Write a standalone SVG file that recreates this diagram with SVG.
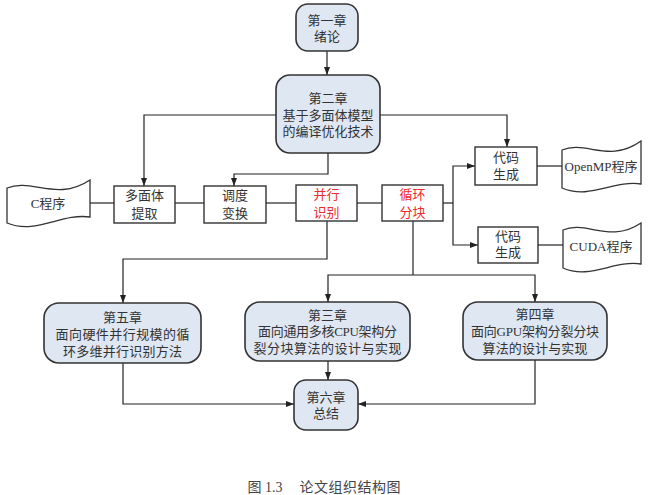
<svg xmlns="http://www.w3.org/2000/svg" width="650" height="495" viewBox="0 0 650 495">
<defs>
<marker id="ah" markerUnits="userSpaceOnUse" markerWidth="8" markerHeight="8" viewBox="0 0 8 8" refX="8" refY="4" orient="auto">
<path d="M0,1 L8,4 L0,7 Z" fill="#222"/>
</marker>
<style>
.ch{fill:#dfe7f3;stroke:#333;stroke-width:1.6}
.bx{fill:#fff;stroke:#333;stroke-width:1.4}
.doc{fill:#fff;stroke:#333;stroke-width:1.3}
.t{font-family:'Liberation Serif','Noto Sans CJK SC',serif;font-size:13px;fill:#333;text-anchor:middle}
.r{fill:#ee2a2a}
.cap{font-size:14px;fill:#444}
.ln{fill:none;stroke:#222;stroke-width:1.2}
.ar{marker-end:url(#ah)}
</style>
</defs>
<rect width="650" height="495" fill="#fff"/>

<g id="connectors">
<path class="ln ar" d="M327,51 V75"/>
<path class="ln ar" d="M276,115 H144 V186"/>
<path class="ln ar" d="M380,115 H507 V147"/>
<path class="ln ar" d="M328,153 V174 H234 V186"/>
<path class="ln" d="M90,203 H114"/>
<path class="ln" d="M175,203 H204"/>
<path class="ln" d="M266,203 H296"/>
<path class="ln" d="M357,203 H382"/>
<path class="ln" d="M443,203 H453"/>
<path class="ln ar" d="M453,203 V166 H475"/>
<path class="ln ar" d="M453,203 V245 H478"/>
<path class="ln" d="M537,166 H562"/>
<path class="ln" d="M538,245 H563"/>
<path class="ln ar" d="M327,221 V259 H123 V303"/>
<path class="ln" d="M413,221 V275"/>
<path class="ln ar" d="M413,275 H328 V302"/>
<path class="ln ar" d="M413,275 H535 V302"/>
<path class="ln ar" d="M328,361 V380"/>
<path class="ln ar" d="M123,363 V404 H294"/>
<path class="ln ar" d="M535,360 V404 H358"/>
</g>

<g id="ch1">
<rect class="ch" x="296" y="4" width="62" height="47" rx="12"/>
<text class="t" x="327" y="25">第一章</text>
<text class="t" x="327" y="41">绪论</text>
</g>

<g id="ch2">
<rect class="ch" x="276" y="75" width="104" height="78" rx="14"/>
<text class="t" x="328" y="103">第二章</text>
<text class="t" x="328" y="120">基于多面体模型</text>
<text class="t" x="328" y="136">的编译优化技术</text>
</g>

<g id="c-program">
<path class="doc" d="M7,188 C32,178 57,202 90,180 L90,217 C61,213 36,235 7,223 Z"/>
<text class="t" x="48" y="208">C程序</text>
</g>

<g id="polyhedral-extract">
<rect class="bx" x="114" y="186" width="61" height="37"/>
<text class="t" x="144.5" y="200">多面体</text>
<text class="t" x="144.5" y="218">提取</text>
</g>

<g id="schedule-transform">
<rect class="bx" x="204" y="186" width="62" height="37"/>
<text class="t" x="235" y="200">调度</text>
<text class="t" x="235" y="218">变换</text>
</g>

<g id="parallel-detect">
<rect class="bx" x="296" y="185" width="61" height="36"/>
<text class="t r" x="326.5" y="199">并行</text>
<text class="t r" x="326.5" y="217">识别</text>
</g>

<g id="loop-tiling">
<rect class="bx" x="382" y="185" width="61" height="36"/>
<text class="t r" x="412.5" y="199">循环</text>
<text class="t r" x="412.5" y="217">分块</text>
</g>

<g id="codegen-openmp">
<rect class="bx" x="475" y="147" width="62" height="38"/>
<text class="t" x="506" y="162">代码</text>
<text class="t" x="506" y="179">生成</text>
</g>

<g id="openmp-program">
<path class="doc" d="M562,150 C586,140 609,164 641,141 L641,184 C613,180 590,200 562,188 Z"/>
<text class="t" x="601" y="171">OpenMP程序</text>
</g>

<g id="codegen-cuda">
<rect class="bx" x="478" y="227" width="60" height="36"/>
<text class="t" x="508" y="241">代码</text>
<text class="t" x="508" y="257">生成</text>
</g>

<g id="cuda-program">
<path class="doc" d="M563,230 C586,220 610,244 641,223 L641,264 C613,260 590,280 563,268 Z"/>
<text class="t" x="601" y="251">CUDA程序</text>
</g>

<g id="ch5">
<rect class="ch" x="44" y="303" width="157" height="60" rx="15"/>
<text class="t" x="122.5" y="322">第五章</text>
<text class="t" x="122.5" y="339" textLength="134" lengthAdjust="spacing">面向硬件并行规模的循</text>
<text class="t" x="122.5" y="356" textLength="119" lengthAdjust="spacing">环多维并行识别方法</text>
</g>

<g id="ch3">
<rect class="ch" x="245" y="302" width="165" height="59" rx="15"/>
<text class="t" x="327.5" y="320">第三章</text>
<text class="t" x="327.5" y="336" textLength="139" lengthAdjust="spacing">面向通用多核CPU架构分</text>
<text class="t" x="327.5" y="353" textLength="148" lengthAdjust="spacing">裂分块算法的设计与实现</text>
</g>

<g id="ch4">
<rect class="ch" x="463" y="302" width="144" height="58" rx="15"/>
<text class="t" x="535" y="319">第四章</text>
<text class="t" x="535" y="336" textLength="128" lengthAdjust="spacing">面向GPU架构分裂分块</text>
<text class="t" x="535" y="353" textLength="105" lengthAdjust="spacing">算法的设计与实现</text>
</g>

<g id="ch6">
<rect class="ch" x="294" y="380" width="64" height="50" rx="12"/>
<text class="t" x="326" y="402">第六章</text>
<text class="t" x="326" y="418">总结</text>
</g>

<g id="caption">
<text class="t cap" x="265" y="492">图 1.3</text>
<text class="t cap" x="350" y="492" textLength="101" lengthAdjust="spacing">论文组织结构图</text>
</g>
</svg>
